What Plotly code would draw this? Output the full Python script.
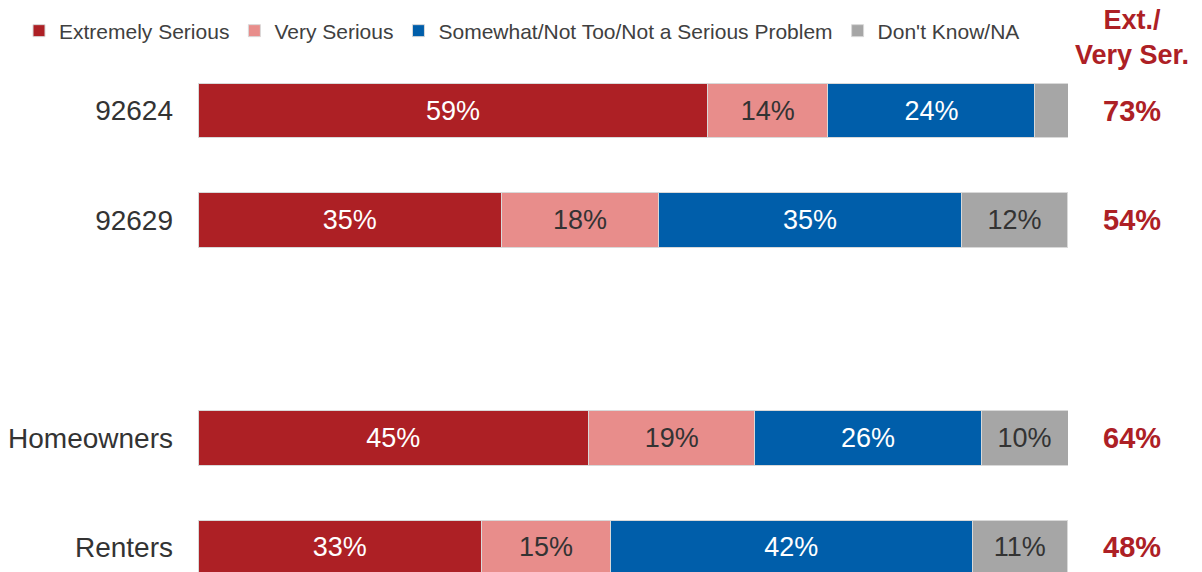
import plotly.graph_objects as go

categories = ["92624", "92629", "Homeowners", "Renters"]
axis_order = ["92624", "92629", " ", "Homeowners", "Renters"]

series_names = ["Extremely Serious", "Very Serious",
                "Somewhat/Not Too/Not a Serious Problem", "Don't Know/NA"]
extremely = [58.6, 34.9, 44.9, 32.6]
very = [13.8, 18.0, 19.1, 14.8]
somewhat = [23.8, 34.9, 26.0, 41.6]
dontknow = [3.8, 12.1, 10.0, 10.9]
totals = ["73%", "54%", "64%", "48%"]
totals_header = "Ext./<br>Very Ser."

colors = ["#AD2025", "#E88D8B", "#005EAA", "#A6A6A6"]
text_colors = ["#FFFFFF", "#333333", "#FFFFFF", "#333333"]

FONT = "Liberation Sans, Arial, sans-serif"
TOT_X = (1132 - 198) / 870  # paper x of the totals column

fig = go.Figure()
for name, vals, col, tcol in zip(series_names, [extremely, very, somewhat, dontknow],
                                 colors, text_colors):
    labels = [f"{round(v)}%" if v >= 5 else "" for v in vals]
    fig.add_trace(go.Bar(
        y=categories, x=vals, name=name, orientation="h",
        marker=dict(color=col, line=dict(color="#D9D9D9", width=1)),
        text=labels, textposition="inside", insidetextanchor="middle",
        textfont=dict(family=FONT, size=27, color=tcol),
        constraintext="none", hoverinfo="skip",
    ))

# Ext./Very Ser. totals column
for cat, t in zip(categories, totals):
    fig.add_annotation(x=TOT_X, y=axis_order.index(cat), xref="paper", yref="y",
                       text=t, showarrow=False,
                       font=dict(family=FONT, size=29, color="#AD2025", weight="bold"),
                       xanchor="center", yanchor="middle")

fig.add_annotation(x=TOT_X, y=(572 - 38) / 516, xref="paper", yref="paper",
                   text=totals_header, showarrow=False, xanchor="center", yanchor="middle",
                   align="center",
                   font=dict(family=FONT, size=27, color="#AD2025", weight="bold"))

fig.update_layout(
    width=1202, height=572,
    barmode="stack", bargap=0.5,
    margin=dict(l=198, r=134, t=56, b=0),
    plot_bgcolor="white", paper_bgcolor="white",
    font=dict(family=FONT, color="#333333"),
    showlegend=True,
    legend=dict(orientation="h", x=(19 - 198) / 870, xanchor="left",
                y=(572 - 31) / 516, yanchor="middle",
                font=dict(family=FONT, size=21, color="#404040"),
                itemwidth=30, traceorder="normal", bgcolor="rgba(0,0,0,0)"),
    xaxis=dict(range=[0, 100], visible=False, fixedrange=True),
    yaxis=dict(type="category", categoryorder="array", categoryarray=axis_order,
               range=[4.225, -0.5], showgrid=False, zeroline=False, showline=False,
               ticks="", ticklabelstandoff=24, fixedrange=True,
               tickfont=dict(family=FONT, size=28, color="#333333")),
)

fig.write_html("out.html", config={"displayModeBar": False},
               post_script="document.body.style.margin='0';")
